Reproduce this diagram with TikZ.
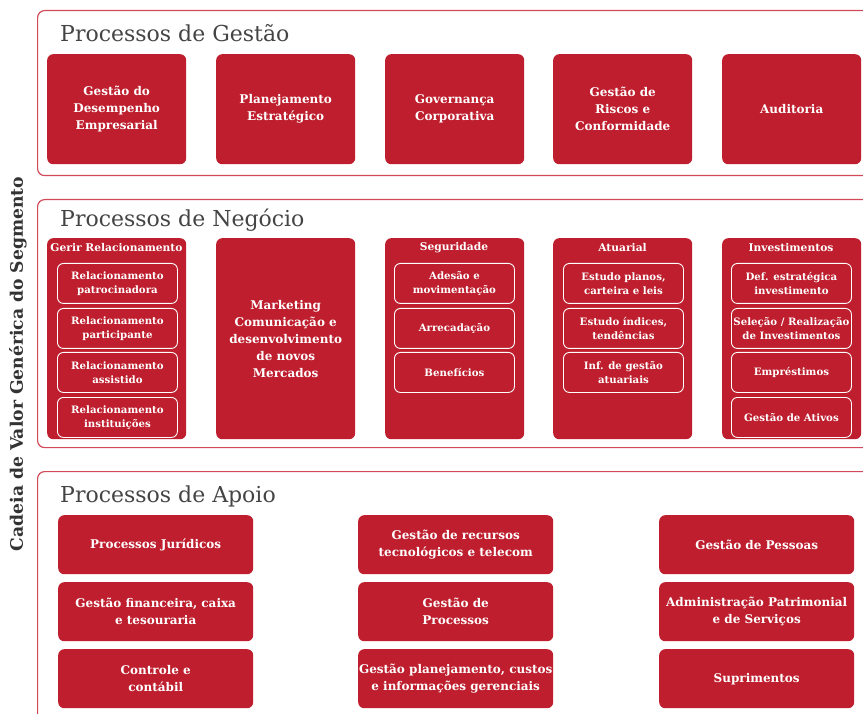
\documentclass[tikz,border=0pt]{standalone}
\usepackage{fontspec}
\setmainfont{DejaVu Serif}
\definecolor{boxred}{HTML}{BE1E2D}
\definecolor{panelred}{HTML}{D24A58}
\definecolor{titlegray}{HTML}{444444}
\definecolor{sidegray}{HTML}{333333}
\tikzset{
  panel/.style={draw=panelred, line width=1.2pt, rounded corners=7pt, inner sep=0pt},
  ptitle/.style={anchor=base west, text=titlegray, font=\fontsize{22}{26}\selectfont, inner sep=0pt},
  redbox/.style={fill=boxred, rounded corners=6pt, text=white, align=center, inner sep=0pt, anchor=north west,
     font=\fontsize{12}{17}\selectfont\bfseries},
  apbox/.style={redbox, font=\fontsize{12}{17}\selectfont\bfseries},
  subbox/.style={draw=white, line width=0.9pt, rounded corners=6pt, text=white, align=center, inner sep=0pt,
     anchor=north west, minimum width=120pt, minimum height=40pt, font=\fontsize{10.2}{14}\selectfont\bfseries},
  colhead/.style={text=white, inner sep=0pt, font=\fontsize{10.7}{13}\selectfont\bfseries},
}
\begin{document}
\begin{tikzpicture}[x=1pt,y=-1pt]
\useasboundingbox (0,0) rectangle (863,714);
\clip (0,0) rectangle (863,714);
% vertical label
\node[rotate=90, text=sidegray, font=\fontsize{17.2}{19}\selectfont\bfseries, inner sep=0pt] (side) at (18,364) {Cadeia de Valor Genérica do Segmento};

% ---------- Gestão ----------
\node[panel, anchor=north west, minimum width=860pt, minimum height=165pt] (pg) at (37,10) {};
\node[ptitle] (tg) at (60,42) {Processos de Gestão};
\node[redbox, minimum width=139pt, minimum height=110pt] (g1) at (47,54) {Gestão do\\Desempenho\\Empresarial};
\node[redbox, minimum width=139pt, minimum height=110pt] (g2) at (216,54) {Planejamento\\Estratégico};
\node[redbox, minimum width=139pt, minimum height=110pt] (g3) at (385,54) {Governança\\Corporativa};
\node[redbox, minimum width=139pt, minimum height=110pt] (g4) at (553,54) {Gestão de\\Riscos e\\Conformidade};
\node[redbox, minimum width=139pt, minimum height=110pt] (g5) at (722,54) {Auditoria};

% ---------- Negócio ----------
\node[panel, anchor=north west, minimum width=860pt, minimum height=248pt] (pn) at (37,199) {};
\node[ptitle] (tn) at (60,227) {Processos de Negócio};
\node[redbox, minimum width=139pt, minimum height=201pt] (n1) at (47,238) {};
\node[redbox, minimum width=139pt, minimum height=201pt] (n2) at (216,238) {Marketing\\Comunicação e\\desenvolvimento\\de novos\\Mercados};
\node[redbox, minimum width=139pt, minimum height=201pt] (n3) at (385,238) {};
\node[redbox, minimum width=139pt, minimum height=201pt] (n4) at (553,238) {};
\node[redbox, minimum width=139pt, minimum height=201pt] (n5) at (722,238) {};

\node[colhead] (h1) at (116.5,248) {Gerir Relacionamento};
\node[colhead] (h3) at (454,248) {Seguridade};
\node[colhead] (h4) at (622.5,248) {Atuarial};
\node[colhead] (h5) at (791,248) {Investimentos};

\node[subbox] (r1) at (57,263) {Relacionamento\\patrocinadora};
\node[subbox] (r2) at (57,308) {Relacionamento\\participante};
\node[subbox] (r3) at (57,352) {Relacionamento\\assistido};
\node[subbox] (r4) at (57,397) {Relacionamento\\instituições};

\node[subbox] (s1) at (394,263) {Adesão e\\movimentação};
\node[subbox] (s2) at (394,308) {Arrecadação};
\node[subbox] (s3) at (394,352) {Benefícios};

\node[subbox] (a1) at (563,263) {Estudo planos,\\carteira e leis};
\node[subbox] (a2) at (563,308) {Estudo índices,\\tendências};
\node[subbox] (a3) at (563,352) {Inf. de gestão\\atuariais};

\node[subbox] (i1) at (731,263) {Def. estratégica\\investimento};
\node[subbox] (i2) at (731,308) {Seleção / Realização\\de Investimentos};
\node[subbox] (i3) at (731,352) {Empréstimos};
\node[subbox] (i4) at (731,397) {Gestão de Ativos};

% ---------- Apoio ----------
\node[panel, anchor=north west, minimum width=860pt, minimum height=270pt] (pa) at (37,471) {};
\node[ptitle] (ta) at (60,502) {Processos de Apoio};
\node[apbox, minimum width=195pt, minimum height=59pt] (ap1) at (58,515) {Processos Jurídicos};
\node[apbox, minimum width=195pt, minimum height=59pt] (ap2) at (358,515) {Gestão de recursos\\tecnológicos e telecom};
\node[apbox, minimum width=195pt, minimum height=59pt] (ap3) at (659,515) {Gestão de Pessoas};
\node[apbox, minimum width=195pt, minimum height=59pt] (ap4) at (58,582) {Gestão financeira, caixa\\e tesouraria};
\node[apbox, minimum width=195pt, minimum height=59pt] (ap5) at (358,582) {Gestão de\\Processos};
\node[apbox, minimum width=195pt, minimum height=59pt] (ap6) at (659,582) {Administração Patrimonial\\e de Serviços};
\node[apbox, minimum width=195pt, minimum height=59pt] (ap7) at (58,649) {Controle e\\contábil};
\node[apbox, minimum width=195pt, minimum height=59pt] (ap8) at (358,649) {Gestão planejamento, custos\\e informações gerenciais};
\node[apbox, minimum width=195pt, minimum height=59pt] (ap9) at (659,649) {Suprimentos};
\end{tikzpicture}
\end{document}
